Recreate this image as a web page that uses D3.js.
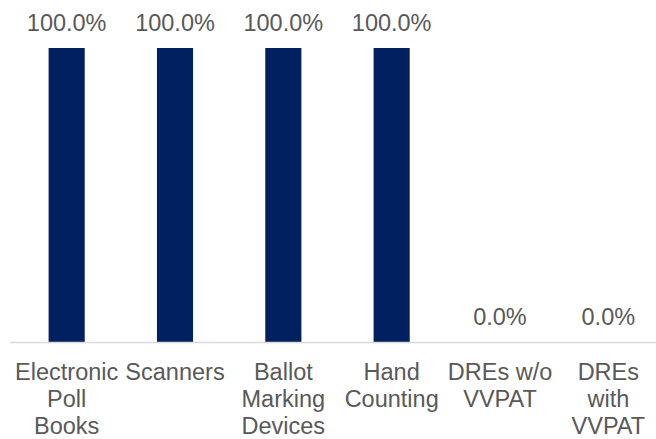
<!DOCTYPE html>
<html lang="en">
	<head>
		<meta charset="utf-8">
		<title>Voting equipment</title>
		<script src="https://d3js.org/d3.v7.min.js"></script>
		<style type="text/css">
			body { margin: 0; background: #fff; }
			text { font-family: "Liberation Sans", Arial, sans-serif; fill: #595959; }
		</style>
	</head>
	<body>
		<script type="text/javascript">
		// categories, split into lines as in the chart
		var categories = ["Electronic Poll Books", "Scanners", "Ballot Marking Devices",
			"Hand Counting", "DREs w/o VVPAT", "DREs with VVPAT"];
		var tickLines = [
			["Electronic", "Poll", "Books"],
			["Scanners"],
			["Ballot", "Marking", "Devices"],
			["Hand", "Counting"],
			["DREs w/o", "VVPAT"],
			["DREs", "with", "VVPAT"]
		];
		var values = [1, 1, 1, 1, 0, 0];

		var width = 656,
			height = 439;
		var fontSize = 23.5;

		var svg = d3.select("body")
			.append("svg")
			.attr("width", width)
			.attr("height", height);

		var x = d3.scaleBand()
			.domain(categories)
			.range([12.5, 662.5])
			.paddingInner(2/3)
			.paddingOuter(1/3);

		var y = d3.scaleLinear()
			.domain([0, 1])
			.range([342, 48]);

		// bars
		svg.selectAll("rect.bar")
			.data(values)
			.enter()
			.append("rect")
			.attr("class", "bar")
			.attr("x", function(d, i){ return x(categories[i]); })
			.attr("y", function(d){ return y(d); })
			.attr("width", x.bandwidth())
			.attr("height", function(d){ return y(0) - y(d); })
			.attr("fill", "#002060");

		// baseline
		svg.append("line")
			.attr("x1", 10)
			.attr("x2", width)
			.attr("y1", y(0) + 0.5)
			.attr("y2", y(0) + 0.5)
			.attr("stroke", "#d9d9d9")
			.attr("stroke-width", 1.5);

		// value labels
		var fmt = d3.format(".1%");
		svg.selectAll("text.val")
			.data(values)
			.enter()
			.append("text")
			.attr("class", "val")
			.attr("x", function(d, i){ return x(categories[i]) + x.bandwidth()/2; })
			.attr("y", function(d){ return y(d) - 17; })
			.attr("text-anchor", "middle")
			.style("font-size", fontSize + "px")
			.text(function(d){ return fmt(d); });

		// category labels
		var ticks = svg.selectAll("text.cat")
			.data(categories)
			.enter()
			.append("text")
			.attr("class", "cat")
			.attr("text-anchor", "middle")
			.style("font-size", fontSize + "px")
			.attr("transform", function(d){
				return "translate(" + (x(d) + x.bandwidth()/2) + "," + 380 + ")";
			});

		ticks.each(function(d, i){
			var t = d3.select(this);
			tickLines[i].forEach(function(line, j){
				t.append("tspan")
					.attr("x", 0)
					.attr("y", j * 27)
					.text(line);
			});
		});
		</script>
	</body>
</html>
